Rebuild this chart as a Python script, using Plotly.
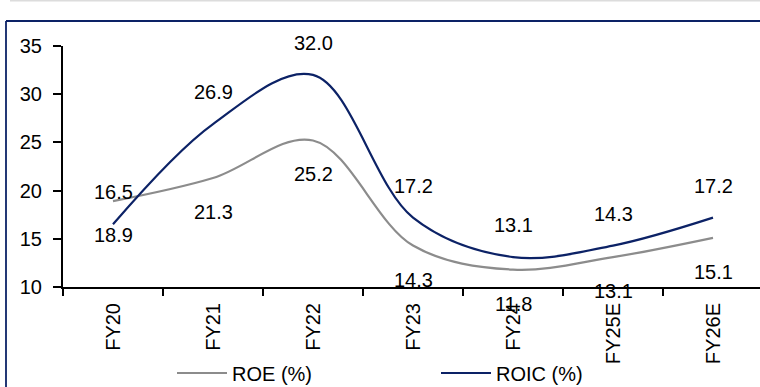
import plotly.graph_objects as go

categories = ["FY20", "FY21", "FY22", "FY23", "FY24", "FY25E", "FY26E"]
roe = [18.9, 21.3, 25.2, 14.3, 11.8, 13.1, 15.1]
roic = [16.5, 26.9, 32.0, 17.2, 13.1, 14.3, 17.2]
y_ticks = [10, 15, 20, 25, 30, 35]

FONT = "Liberation Sans"
GRAY = "#8c8c8c"
NAVY = "#0c2266"
FS = 20

W, H = 760, 387
L, R, T, B = 63, 0, 46, 100
pw = W - L - R
ph = H - T - B

def px(xp):
    return (xp - L) / pw

def py(yp):
    return (H - B - yp) / ph

fig = go.Figure()
fig.add_trace(go.Scatter(x=categories, y=roe, mode="lines", name="ROE (%)", legend="legend",
                         line=dict(color=GRAY, width=2.2, shape="spline", smoothing=1.0)))
fig.add_trace(go.Scatter(x=categories, y=roic, mode="lines", name="ROIC (%)", legend="legend2",
                         line=dict(color=NAVY, width=2.2, shape="spline", smoothing=1.0)))

ann = []
for c, v in zip(categories, roic):
    ann.append(dict(x=c, y=v, xref="x", yref="y", text=f"{v:.1f}", showarrow=False,
                    yshift=32, font=dict(family=FONT, size=FS, color="#000")))
for c, v in zip(categories, roe):
    ann.append(dict(x=c, y=v, xref="x", yref="y", text=f"{v:.1f}", showarrow=False,
                    yshift=-34, font=dict(family=FONT, size=FS, color="#000")))

shapes = [
    dict(type="line", xref="paper", yref="paper", x0=px(10), x1=px(800), y0=py(0.5), y1=py(0.5),
         line=dict(color="#dcdcdc", width=2)),
    dict(type="line", xref="paper", yref="paper", x0=px(6), x1=px(800), y0=py(21), y1=py(21),
         line=dict(color=NAVY, width=1.8)),
    dict(type="line", xref="paper", yref="paper", x0=px(6), x1=px(6), y0=py(21), y1=py(420),
         line=dict(color=NAVY, width=1.8)),
]

leg_common = dict(orientation="h", yanchor="middle", xanchor="left", itemwidth=50,
                  font=dict(family=FONT, size=FS), bgcolor="rgba(0,0,0,0)")

fig.update_layout(
    width=W, height=H,
    margin=dict(l=L, r=R, t=T, b=B, autoexpand=False),
    paper_bgcolor="white", plot_bgcolor="white",
    font=dict(family=FONT, size=FS, color="#000"),
    showlegend=True,
    legend=dict(x=px(172), y=py(373), **leg_common),
    legend2=dict(x=px(436), y=py(373), **leg_common),
    annotations=ann,
    shapes=shapes,
    xaxis=dict(type="category", range=[-0.5, 6.47], showline=True, linecolor="#000", linewidth=2,
               ticks="outside", tickson="boundaries", ticklen=7, tickcolor="#000", tickwidth=2,
               tickangle=-90, showgrid=False, zeroline=False, ticklabelstandoff=6,
               tickfont=dict(family=FONT, size=FS)),
    yaxis=dict(range=[10, 35], tickvals=y_ticks, showline=True, linecolor="#000", linewidth=2,
               ticks="outside", ticklen=8, tickcolor="#000", tickwidth=2, showgrid=False,
               zeroline=False, ticklabelstandoff=7, tickfont=dict(family=FONT, size=FS)),
)

fig.write_html("out.html", config={"displayModeBar": False},
               post_script="document.body.style.margin='0';document.body.style.padding='0';")
